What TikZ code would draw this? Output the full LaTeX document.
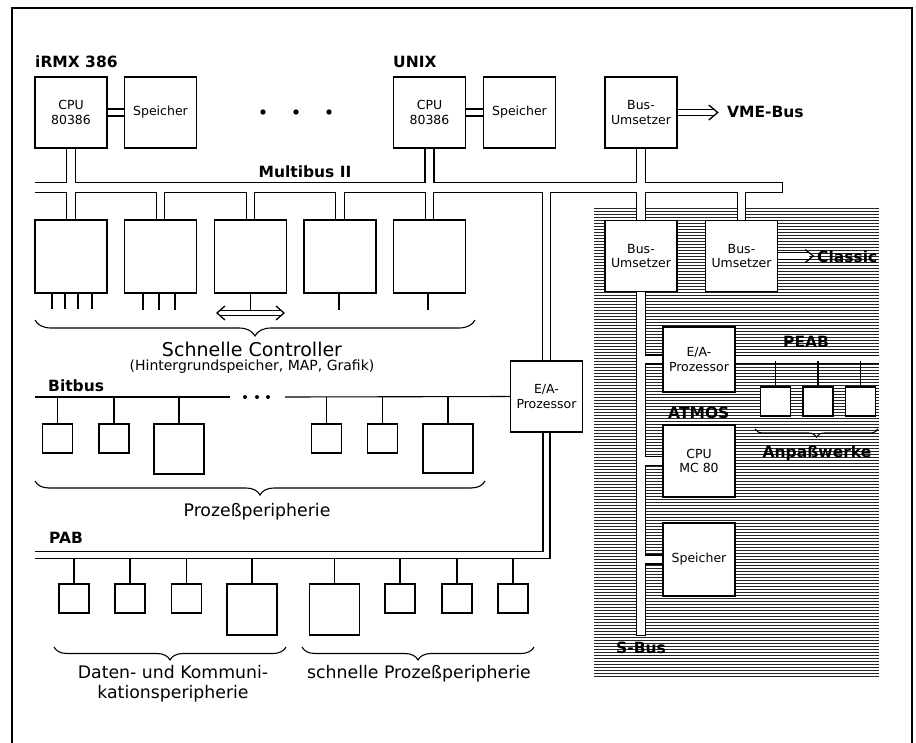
\documentclass[tikz,border=0pt]{standalone}
\usepackage{fontspec}
\setmainfont{DejaVu Sans}
\usetikzlibrary{decorations.pathreplacing}

\newcommand{\boxfont}{\fontsize{12.5}{14.5}\selectfont}
\newcommand{\labfont}{\fontsize{15.5}{18}\selectfont\bfseries}
\newcommand{\bracefont}{\fontsize{17.3}{20}\selectfont}
\newcommand{\notefont}{\fontsize{14}{16}\selectfont}

\pgfdeclarelayer{hatch}
\pgfdeclarelayer{bus}
\pgfsetlayers{hatch,bus,main}

\tikzset{
  box/.style={draw, fill=white, line width=1.5pt, inner sep=0pt, align=center,
    font=\boxfont, minimum width=72pt, minimum height=71pt},
  dev/.style={draw, fill=white, line width=1.4pt, inner sep=0pt,
    minimum width=30pt, minimum height=29pt},
  bigdev/.style={dev, minimum width=50pt, minimum height=51pt},
  lab/.style={font=\labfont, inner sep=0pt},
  wire/.style={line width=1.1pt},
  chevron/.style={line width=1.3pt, line join=miter},
  curly/.style={decorate, decoration={brace, mirror, amplitude=#1}, line width=1.1pt},
  hatchline/.style={line width=0.95pt, black!85},
  chanK/.style={line width=#1+1.3pt},
  chanW/.style={line width=#1-1.3pt, white},
}

% a bus is a channel of two lines: drawn once black, once white inside
\newcommand{\busnet}{%
  \draw[chan=10.5pt, capped] (mb) -- (mbE);                  % Multibus II
  \foreach \n in {cpuA,cpuB}
    \draw[chan=9pt] (\n.south) -- (\n.south |- mb);
  \draw[chan=9.5pt] (bumA.south) -- (bumA.south |- mb);
  \foreach \n in {ctlA,ctlB,ctlC,ctlD,ctlE}
    \draw[chan=8.5pt] (\n.north) -- (\n.north |- mb);
  \draw[chan=8pt] (eaA.north) -- (eaA.north |- mb);
  \draw[chan=9.5pt] (bumB.north) -- (bumB.north |- mb);
  \draw[chan=7.5pt] (bumC.north) -- (bumC.north |- mb);
  \draw[chan=7pt] (eaA.south) |- (pab);                      % PAB
  \draw[chan=9pt, capped] (bumB.south) -- (bumB.south |- sbE); % S-Bus
  \foreach \n in {eaB,cpuC,memC}
    \draw[chan=9pt] (\n.west) -- (\n.west -| bumB.south);
  \draw[chan=7.5pt] (eaB.east) -- (eaB.east -| peab);        % PEAB
  \draw[chan=7pt] (cpuA.east) -- (memA.west);
  \draw[chan=7pt] (cpuB.east) -- (memB.west);
  \draw[chan=6.5pt] (bumA.east) -- ++(36,0);
  \draw[chan=6.5pt] (bumC.east) -- ++(31,0);
  \draw[chan=4.5pt] (dio) ++(-31,0) -- ++(62,0);
}

\begin{document}
\begin{tikzpicture}[x=1pt, y=-1pt]
  \useasboundingbox (0,0) rectangle (916,742);
  \draw[line width=1.5pt] (12,750) -- (12,8) -- (912,8) -- (912,750);

  % reference points of the buses
  \coordinate (mb) at (35,187.5);
  \coordinate (mbE) at (783,187.5);
  \coordinate (pab) at (35,555);
  \coordinate (pabLo) at (35,558.5);
  \coordinate (sbE) at (642,636);
  \coordinate (peab) at (879,357.5);
  \coordinate (peabLo) at (879,361.3);
  \coordinate (bb) at (35,397);
  \coordinate (bbA) at (230,397);
  \coordinate (bbB) at (285,397);
  \coordinate (dio) at (250.5,313);

  % Multibus II boards
  \node[box] (cpuA) at (71,112.5) {CPU\\80386};
  \node[box] (memA) at (160.5,112.5) {Speicher};
  \node[box] (cpuB) at (429.5,112.5) {CPU\\80386};
  \node[box] (memB) at (519.5,112.5) {Speicher};
  \node[box] (bumA) at (641,112.5) {Bus-\\Umsetzer};
  \foreach \x in {263,296,329}
    \fill (\x,112) circle (2.7pt);

  \foreach \n/\x in {ctlA/71,ctlB/160.5,ctlC/250.5,ctlD/340,ctlE/429.5}
    \node[box, minimum height=73pt] (\n) at (\x,256.5) {};
  \node[box] (eaA) at (546.5,396.5) {E/A-\\Prozessor};

  % ATMOS part
  \node[box] (bumB) at (641,256) {Bus-\\Umsetzer};
  \node[box] (bumC) at (741.5,256) {Bus-\\Umsetzer};
  \node[box, minimum height=65pt] (eaB) at (699,359.5) {E/A-\\Prozessor};
  \node[box, minimum height=72pt] (cpuC) at (699,461) {CPU\\MC 80};
  \node[box, minimum height=73pt] (memC) at (699,559.5) {Speicher};
  \foreach \n/\x in {pd1/775.5,pd2/818,pd3/860.5}
    \node[dev] (\n) at (\x,401.5) {};

  % Bitbus
  \node[dev] (bd1) at (57.5,438.5) {};
  \node[dev] (bd2) at (114,438.5) {};
  \node[bigdev, minimum height=50pt] (bd3) at (179,449) {};
  \node[dev] (bd4) at (326.5,438.5) {};
  \node[dev] (bd5) at (382.5,438.5) {};
  \node[bigdev, minimum height=49pt] (bd6) at (448,448.5) {};

  % PAB
  \foreach \n/\x in {pb1/74,pb2/130,pb3/186.5,pb6/400,pb7/457,pb8/513}
    \node[dev] (\n) at (\x,598.5) {};
  \node[bigdev] (pb4) at (252,609.5) {};
  \node[bigdev] (pb5) at (334.5,609.5) {};

  \begin{pgfonlayer}{hatch}
    \foreach \y in {208,211,...,676}
      \draw[hatchline] (594,\y) -- (879,\y);
  \end{pgfonlayer}

  \begin{pgfonlayer}{bus}
    \begin{scope}[chan/.style={chanK=#1}, capped/.style={}]
      \busnet
    \end{scope}
    \begin{scope}[chan/.style={chanW=#1}, capped/.style={shorten >=1.3pt}]
      \busnet
    \end{scope}
  \end{pgfonlayer}

  % single lines
  \draw[wire] (bb) -- (bbA);
  \draw[wire] (bbB) -- (eaA.west);
  \foreach \x in {245,257,268}
    \fill (\x,397) circle (2pt);
  \foreach \n in {bd1,bd2,bd3,bd4,bd5,bd6}
    \draw[wire] (\n.north) -- (\n.north |- bb);
  \foreach \n in {pb1,pb2,pb3,pb4,pb5,pb6,pb7,pb8}
    \draw[wire] (\n.north) -- (\n.north |- pabLo);
  \foreach \n in {pd1,pd2,pd3}
    \draw[wire] (\n.north) -- (\n.north |- peabLo);
  \foreach \dx in {-19,-6,7,21}
    \draw[wire] ([xshift=\dx]ctlA.south) -- ++(0,15);
  \foreach \dx in {-17.5,-1.5,14.5}
    \draw[wire] ([xshift=\dx]ctlB.south) -- ++(0,16);
  \draw[wire] ([xshift=-1]ctlD.south) -- ++(0,16);
  \draw[wire] ([xshift=-1.5]ctlE.south) -- ++(0,16);
  \draw[wire] (ctlC.south) -- ([yshift=2.25pt]dio);

  % arrow heads
  \draw[chevron] ([xshift=40]bumA.east) ++(-9,-7.5) -- ++(9,7.5) -- ++(-9,7.5);
  \draw[chevron] ([xshift=35]bumC.east) ++(-8,-6.5) -- ++(8,6.5) -- ++(-8,6.5);
  \draw[chevron] ([xshift=33.5]dio) ++(-8,-7) -- ++(8,7) -- ++(-8,7);
  \draw[chevron] ([xshift=-33.5]dio) ++(8,-7) -- ++(-8,7) -- ++(8,7);

  % braces
  \draw[curly=16pt] (35,320) -- (475,320);
  \draw[curly=14pt] (35,481) -- (485,481);
  \draw[curly=13pt] (54,647) -- (286,647);
  \draw[curly=13pt] (302,647) -- (534,647);
  \draw[curly=8pt] (755,429) -- (878,429);

  % labels
  \node[lab, anchor=west] (tRMX) at (35,62) {iRMX 386};
  \node[lab, anchor=west] (tUNIX) at (393,62) {UNIX};
  \node[lab] (tMB) at (305,172) {Multibus II};
  \node[lab, anchor=west] (tVME) at (727,112) {VME-Bus};
  \node[lab, anchor=west] (tBit) at (48,386) {Bitbus};
  \node[lab, anchor=west] (tPAB) at (49,538) {PAB};
  \node[lab, anchor=west] (tCl) at (817,257) {Classic};
  \node[lab, anchor=west] (tPEAB) at (783,342) {PEAB};
  \node[lab, anchor=west] (tATM) at (668,413) {ATMOS};
  \node[lab, anchor=west] (tSB) at (616,648) {S-Bus};
  \node[lab] (tAnp) at (817,453) {Anpaßwerke};

  \node[font=\fontsize{19}{22}\selectfont] (tSC) at (252,349) {Schnelle Controller};
  \node[font=\notefont] (tHG) at (252,367) {(Hintergrundspeicher, MAP, Grafik)};
  \node[font=\bracefont] (tPP) at (257,512) {Prozeßperipherie};
  \node[font=\bracefont, align=center] (tDK) at (173,684) {Daten- und Kommuni-\\kationsperipherie};
  \node[font=\bracefont] (tSP) at (419,674) {schnelle Prozeßperipherie};
\end{tikzpicture}
\end{document}
